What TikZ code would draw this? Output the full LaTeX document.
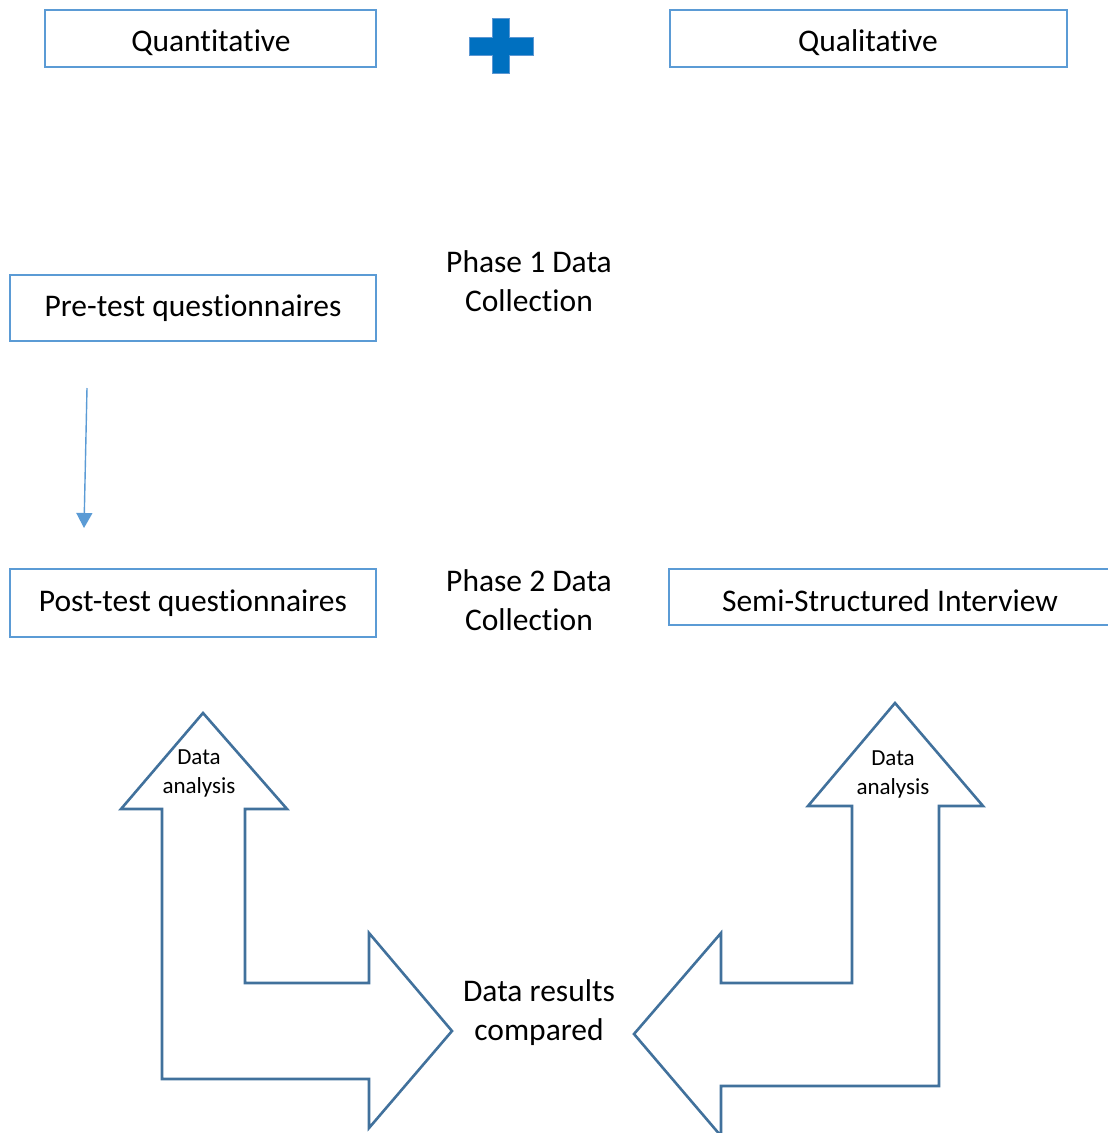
\documentclass[tikz,border=0pt]{standalone}
\usepackage{fontspec}
\setmainfont{Carlito}[Ligatures=NoCommon]
\usetikzlibrary{arrows.meta}
\definecolor{boxblue}{HTML}{5B9BD5}
\definecolor{arrowblue}{HTML}{41719C}
\definecolor{plusblue}{HTML}{0070C0}
\definecolor{plusedge}{HTML}{5C97D2}
\tikzset{
  box/.style={draw=boxblue, line width=2pt, inner sep=0pt, font=\fontsize{31.5}{39}\selectfont},
  bigtext/.style={align=center, inner sep=0pt, font=\fontsize{31.5}{39}\selectfont},
  smalltext/.style={align=center, inner sep=0pt, font=\fontsize{23}{29}\selectfont},
  bent/.style={draw=arrowblue, line width=2.6pt, line join=miter, fill=white},
  conn/.style={draw=boxblue, line width=1.4pt, -{Triangle[length=15pt,width=16pt]}},
}
\begin{document}
\begin{tikzpicture}[x=1pt,y=-1pt]
\useasboundingbox (0,0) rectangle (1108,1133);
% top boxes
\node[box, minimum width=331pt, minimum height=57pt] (quant) at (210.5,38.5) {};
\node[bigtext] (quanttext) at (211,42.5) {Quantitative};
\node[box, minimum width=397pt, minimum height=57pt] (qual) at (868.5,38.5) {};
\node[bigtext] (qualtext) at (868,42.5) {Qualitative};
% plus sign
\draw[fill=plusblue, draw=plusedge, line width=1pt] (492,18) -- (509,18) -- (509,37) -- (533,37) -- (533,55) -- (509,55) -- (509,73) -- (492,73) -- (492,55) -- (469,55) -- (469,37) -- (492,37) -- cycle;
% phase 1
\node[box, minimum width=366pt, minimum height=66pt] (pre) at (193,308) {Pre-test questionnaires};
\node[bigtext] (ph1) at (529,281) {Phase 1 Data\\Collection};
% connector
\coordinate (c1) at (87,388);
\coordinate (c2) at (84,528);
\draw[conn] (c1) -- (c2);
% phase 2
\node[box, minimum width=366pt, minimum height=68pt] (post) at (193,603) {Post-test questionnaires};
\node[bigtext] (ph2) at (529,600.5) {Phase 2 Data\\Collection};
\draw[boxblue, line width=2pt] (1120,569) -- (669,569) -- (669,625) -- (1120,625);
\node[bigtext] (semi) at (890,601) {Semi-Structured Interview};
% left bent arrow
\draw[bent] (203,713) -- (287,809) -- (245,809) -- (245,983) -- (369,983) -- (369,933) -- (452,1031) -- (369,1128) -- (369,1079) -- (162,1079) -- (162,809) -- (121,809) -- cycle;
\node[smalltext] (da1) at (199,773) {Data\\analysis};
% right bent arrow
\draw[bent] (895,703) -- (983,806) -- (939,806) -- (939,1086) -- (721,1086) -- (721,1136) -- (634,1034) -- (721,933) -- (721,983) -- (852,983) -- (852,806) -- (808,806) -- cycle;
\node[smalltext] (da2) at (893,774) {Data\\analysis};
% center text
\node[bigtext] (res) at (539,1013) {Data results\\compared};
\end{tikzpicture}
\end{document}
